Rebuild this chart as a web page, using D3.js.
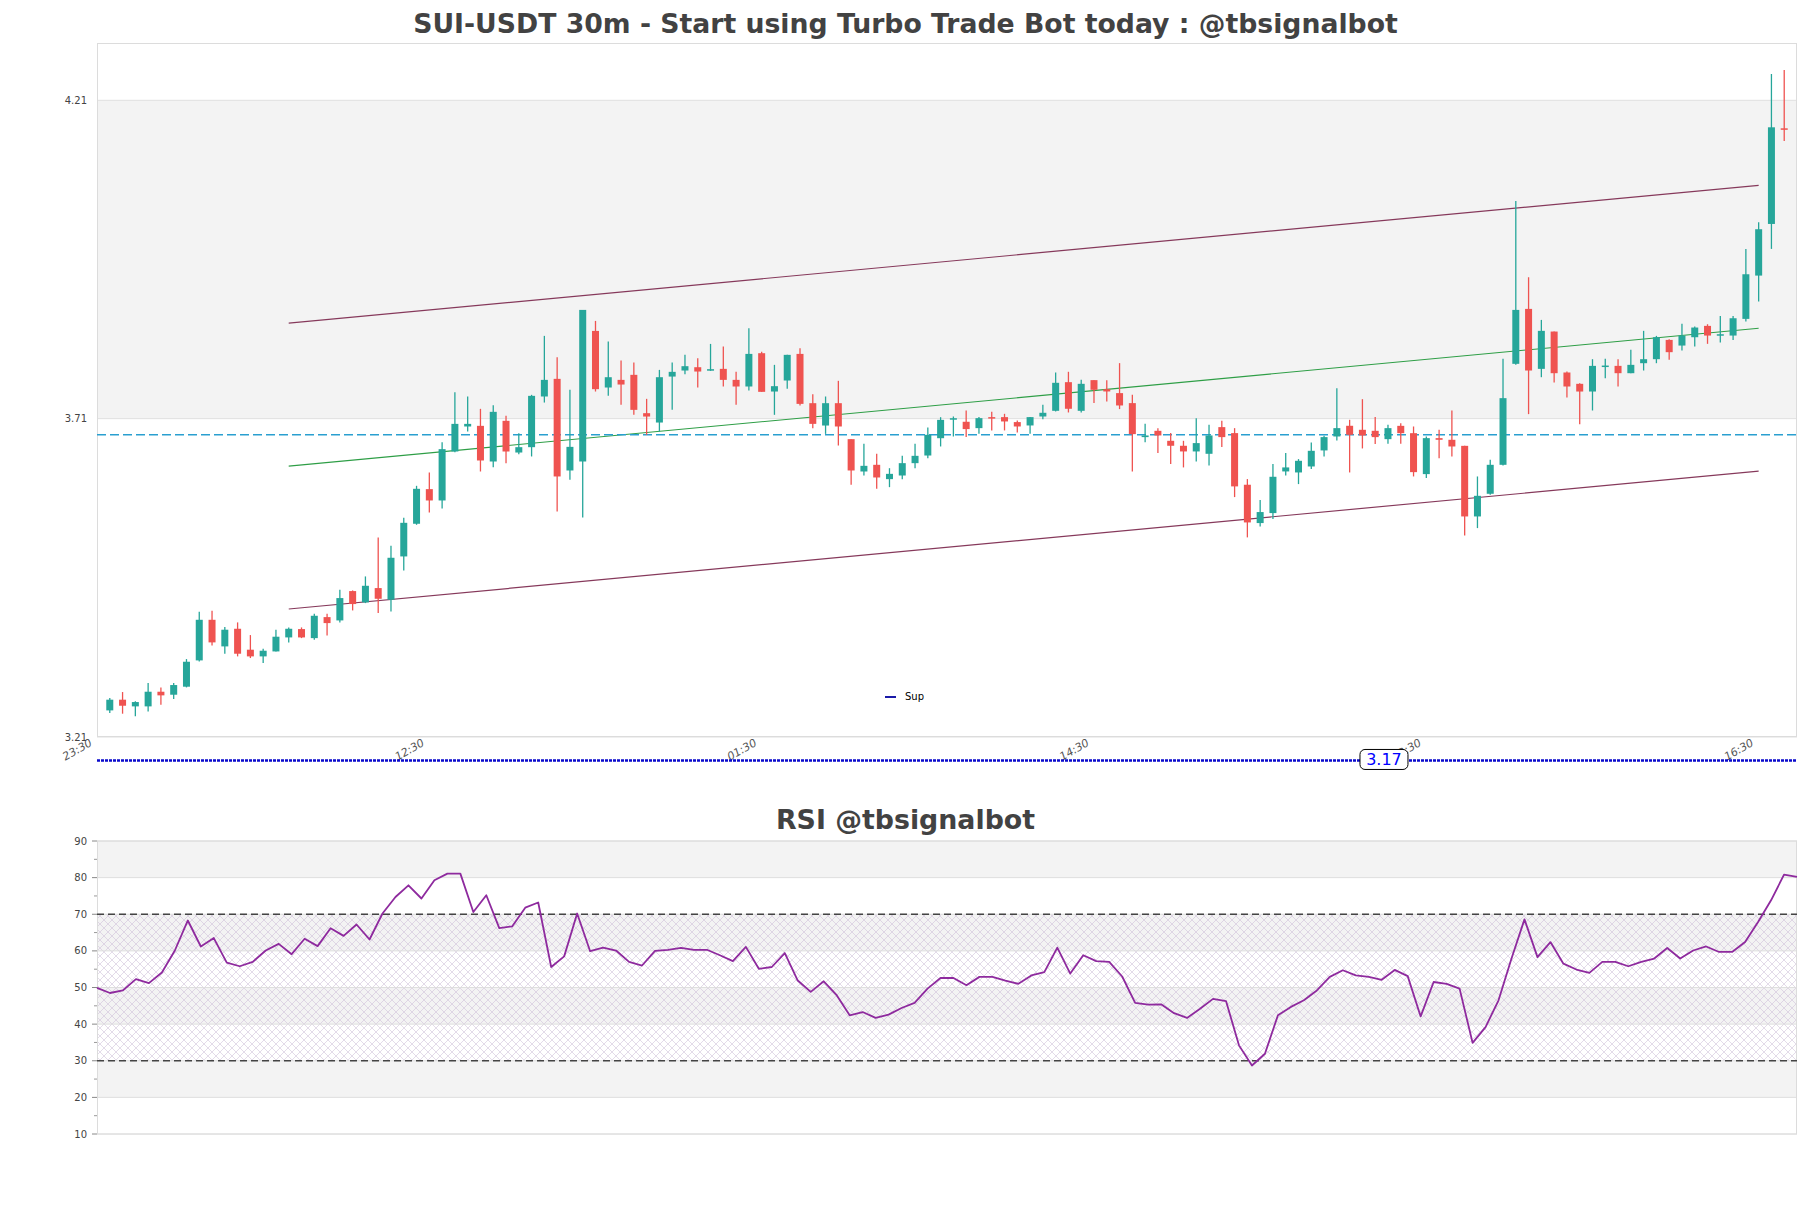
<!DOCTYPE html>
<html><head><meta charset="utf-8">
<script src="https://cdn.jsdelivr.net/npm/d3@7"></script>
<style>html,body{margin:0;padding:0;background:#fff}svg{display:block}</style>
</head><body><svg id="c" width="1811" height="1208"></svg>
<script>
// ---------- DATA ----------
const opens = [3.2518,3.2686,3.2581,3.2581,3.2811,3.2764,3.2890,3.3303,3.3941,3.3523,
3.3800,3.3471,3.3366,3.3444,3.3664,3.3795,3.3653,3.3983,3.3931,3.4392,
3.4214,3.4439,3.4256,3.4936,3.5449,3.5993,3.5815,3.6584,3.6977,3.6987,
3.6427,3.7066,3.6568,3.6652,3.7448,3.7725,3.6286,3.6427,3.8478,3.7589,
3.7709,3.7788,3.7186,3.7039,3.7761,3.7856,3.7908,3.7861,3.7882,3.7709,
3.7605,3.8128,3.7526,3.7699,3.8117,3.7343,3.6992,3.7343,3.6778,3.6270,
3.6375,3.6150,3.6207,3.6401,3.6521,3.6793,3.7092,3.7051,3.6951,3.7124,
3.7124,3.7046,3.6993,3.7134,3.7223,3.7673,3.7223,3.7705,3.7563,3.7501,
3.7344,3.6810,3.6909,3.6752,3.6674,3.6585,3.6548,3.6967,3.6873,3.6062,
3.5460,3.5617,3.6271,3.6255,3.6349,3.6601,3.6820,3.6988,3.6925,3.6909,
3.6778,3.6987,3.6872,3.6229,3.6794,3.6768,3.6673,3.5564,3.5920,3.6375,
3.7961,3.8824,3.7882,3.8468,3.7825,3.7647,3.7526,3.7919,3.7929,3.7814,
3.7971,3.8034,3.8337,3.8248,3.8379,3.8557,3.8405,3.8405,3.8667,3.9347,
4.0158,4.1660];
const highs = [3.2712,3.2806,3.2660,3.2947,3.2879,3.2947,3.3324,3.4067,3.4083,3.3826,
3.3900,3.3701,3.3486,3.3785,3.3821,3.3821,3.4036,3.4036,3.4412,3.4402,
3.4622,3.5234,3.5103,3.5543,3.6045,3.6254,3.6731,3.7515,3.7447,3.7254,
3.7311,3.7144,3.6872,3.7474,3.8400,3.8065,3.7552,3.8808,3.8635,3.8311,
3.8013,3.7981,3.7411,3.7866,3.7981,3.8102,3.8049,3.8274,3.8232,3.7835,
3.8520,3.8149,3.7945,3.8102,3.8206,3.7484,3.7448,3.7694,3.6778,3.6704,
3.6547,3.6322,3.6516,3.6704,3.6961,3.7123,3.7134,3.7229,3.7124,3.7208,
3.7176,3.7072,3.7124,3.7318,3.7825,3.7836,3.7710,3.7705,3.7705,3.7972,
3.7475,3.7019,3.6951,3.6873,3.6752,3.7108,3.7004,3.7066,3.6951,3.6151,
3.5821,3.6386,3.6559,3.6465,3.6726,3.6831,3.7579,3.7082,3.7406,3.7124,
3.7003,3.7029,3.6977,3.6820,3.6925,3.7228,3.6673,3.6192,3.6453,3.8039,
4.0520,3.9321,3.8651,3.8468,3.7840,3.7657,3.8034,3.8039,3.8034,3.8181,
3.8479,3.8400,3.8348,3.8589,3.8547,3.8583,3.8714,3.8714,3.9766,4.0185,
4.2513,4.2576];
const lows = [3.2476,3.2466,3.2424,3.2502,3.2607,3.2696,3.2879,3.3287,3.3539,3.3408,
3.3366,3.3340,3.3261,3.3444,3.3586,3.3653,3.3627,3.3695,3.3900,3.4088,
3.4203,3.4046,3.4072,3.4716,3.5433,3.5627,3.5689,3.6574,3.6898,3.6270,
3.6338,3.6401,3.6542,3.6506,3.7353,3.5642,3.6139,3.5548,3.7526,3.7458,
3.7317,3.7160,3.6846,3.6898,3.7238,3.7798,3.7589,3.7850,3.7605,3.7317,
3.7542,3.7521,3.7160,3.7568,3.7306,3.6950,3.6861,3.6678,3.6061,3.6207,
3.5998,3.6024,3.6150,3.6322,3.6479,3.6663,3.6820,3.6810,3.6862,3.6915,
3.6915,3.6883,3.6862,3.7092,3.7213,3.7197,3.7197,3.7344,3.7370,3.7250,
3.6271,3.6731,3.6559,3.6386,3.6334,3.6428,3.6365,3.6653,3.5868,3.5235,
3.5408,3.5523,3.6208,3.6072,3.6308,3.6506,3.6758,3.6255,3.6632,3.6700,
3.6705,3.6705,3.6192,3.6166,3.6480,3.6506,3.5266,3.5381,3.5904,3.6365,
3.7945,3.7171,3.7751,3.7668,3.7432,3.7013,3.7228,3.7736,3.7605,3.7814,
3.7856,3.7971,3.8024,3.8170,3.8233,3.8275,3.8296,3.8337,3.8625,3.8939,
3.9766,4.1461];
const closes = [3.2686,3.2591,3.2649,3.2811,3.2754,3.2916,3.3282,3.3941,3.3586,3.3785,
3.3408,3.3366,3.3455,3.3675,3.3800,3.3664,3.4004,3.3889,3.4282,3.4188,
3.4475,3.4271,3.4915,3.5464,3.5998,3.5815,3.6621,3.7018,3.7018,3.6443,
3.7207,3.6584,3.6652,3.7458,3.7709,3.6192,3.6657,3.8808,3.7563,3.7751,
3.7636,3.7238,3.7133,3.7751,3.7835,3.7924,3.7840,3.7877,3.7709,3.7605,
3.8117,3.7521,3.7610,3.8102,3.7332,3.7018,3.7343,3.6977,3.6286,3.6359,
3.6176,3.6233,3.6401,3.6516,3.6846,3.7081,3.7107,3.6936,3.7108,3.7103,
3.7056,3.6977,3.7124,3.7192,3.7663,3.7255,3.7647,3.7553,3.7527,3.7307,
3.6857,3.6836,3.6836,3.6674,3.6585,3.6716,3.6836,3.6810,3.6036,3.5470,
3.5633,3.6187,3.6334,3.6438,3.6595,3.6810,3.6951,3.6847,3.6836,3.6810,
3.6951,3.6872,3.6260,3.6794,3.6768,3.6663,3.5564,3.5888,3.6375,3.7422,
3.8808,3.7856,3.8479,3.7814,3.7605,3.7526,3.7929,3.7934,3.7814,3.7945,
3.8034,3.8379,3.8144,3.8405,3.8531,3.8405,3.8426,3.8677,3.9368,4.0075,
4.1676,4.1639];
const rsiValues = [49.9,48.5,49.2,52.3,51.2,54.1,60.1,68.3,61.2,63.5,
56.8,55.8,57.0,60.1,61.9,59.1,63.3,61.3,66.2,64.1,
67.2,63.1,70.2,74.7,77.9,74.3,79.3,81.1,81.1,70.6,
75.2,66.2,66.7,71.8,73.2,55.6,58.5,70.2,59.9,60.9,
60.1,57.0,56.0,60.0,60.3,60.8,60.3,60.3,58.8,57.2,
61.1,55.1,55.6,59.4,51.9,48.8,51.7,47.9,42.4,43.3,
41.7,42.6,44.4,45.8,49.7,52.6,52.6,50.6,52.9,52.9,
51.9,51.0,53.3,54.2,60.9,53.8,58.8,57.2,57.0,53.0,
45.8,45.3,45.4,43.0,41.7,44.2,46.9,46.3,34.2,28.7,
31.9,42.4,44.7,46.5,49.2,52.9,54.7,53.3,52.9,52.1,
54.8,53.1,42.1,51.5,51.0,49.7,34.9,39.2,46.5,57.9,
68.6,58.3,62.4,56.5,54.9,54.0,57.0,57.0,55.8,57.0,
57.9,60.8,57.9,60.1,61.2,59.7,59.7,62.4,67.9,73.8,
80.8,80.2];
const timeLabels = ["23:30","12:30","01:30","14:30","03:30","16:30"];
const timeTickIndex = [0,26,52,78,104,130];
const priceTicks = [3.21,3.71,4.21];
const priceBands = [[3.71,4.21]];
const channelIndex = [14,129];
const channelMid = [3.6355,3.8520];
const channelHalf = 0.2245;
const dashedLevel = 3.6846;
const supLevel = 3.17;
const supLabelIndex = 100;
const rsiTicks = [10,20,30,40,50,60,70,80,90];
const rsiMinorTicks = [15,25,35,45,55,65,75,85];
const rsiBands = [[20,30],[40,50],[60,70],[80,90]];
const rsiLevels = [30,70];

// ---------- LAYOUT ----------
const svg = d3.select("#c");
const L = 97, R = 1797;
const mainTop = 43, mainBot = 737;
const rsiTop = 841, rsiBot = 1134;

const x = d3.scaleLinear().domain([-1, 132]).range([L, R]);
const y = d3.scaleLinear().domain([3.21, 4.30]).range([mainBot, mainTop]);
const xr = d3.scaleLinear().domain([0, rsiValues.length - 1]).range([L, R]);
const yr = d3.scaleLinear().domain([10, 90]).range([rsiBot, rsiTop]);

const FONT = "DejaVu Sans, Verdana, sans-serif";

// pattern for RSI hatch
const defs = svg.append("defs");
const pat = defs.append("pattern").attr("id","hatch").attr("patternUnits","userSpaceOnUse")
  .attr("width",8).attr("height",8);
pat.append("path").attr("d","M0,0 L8,8 M8,0 L0,8 M-1,7 L1,9 M7,-1 L9,1")
  .attr("stroke","#cbbcd6").attr("stroke-width",0.6).attr("fill","none");

// ---------- TITLES ----------
svg.append("text").attr("x",905.5).attr("y",32.5).attr("text-anchor","middle")
  .attr("font-family",FONT).attr("font-weight","bold").attr("font-size",26.7).attr("fill","#424242")
  .text("SUI-USDT 30m - Start using Turbo Trade Bot today : @tbsignalbot");
svg.append("text").attr("x",905.5).attr("y",829).attr("text-anchor","middle")
  .attr("font-family",FONT).attr("font-weight","bold").attr("font-size",26.8).attr("fill","#424242")
  .text("RSI @tbsignalbot");

// ---------- MAIN PANEL ----------
const main = svg.append("g");
main.selectAll("rect.band").data(priceBands).join("rect").attr("class","band")
  .attr("x",L).attr("width",R-L).attr("y",d=>y(d[1])).attr("height",d=>y(d[0])-y(d[1]))
  .attr("fill","#f3f3f3");
main.selectAll("line.grid").data(priceTicks).join("line").attr("class","grid")
  .attr("x1",L).attr("x2",R).attr("y1",d=>y(d)).attr("y2",d=>y(d))
  .attr("stroke","#e0e0e0").attr("stroke-width",1);
main.append("rect").attr("x",L+0.5).attr("y",mainTop+0.5).attr("width",R-L-1).attr("height",mainBot-mainTop-1)
  .attr("fill","none").attr("stroke","#dcdcdc");

// y tick labels
main.selectAll("text.yt").data(priceTicks).join("text").attr("class","yt")
  .attr("x",87).attr("y",d=>y(d)).attr("dy","0.35em").attr("text-anchor","end")
  .attr("font-family",FONT).attr("font-size",10).attr("fill","#444").text(d=>d.toFixed(2));

// x tick labels (rotated)
main.selectAll("text.xt").data(timeTickIndex).join("text").attr("class","xt")
  .attr("transform",d=>`translate(${x(d)-17},745) rotate(-30)`).attr("text-anchor","end")
  .attr("font-family",FONT).attr("font-size",11).attr("font-style","italic").attr("fill","#555")
  .text((d,i)=>timeLabels[i]);

// channel lines
const chan = [
  {off: channelHalf, color:"#86395b", w:1.2},
  {off: 0, color:"#2e9e46", w:1.1},
  {off: -channelHalf, color:"#86395b", w:1.2}
];
main.selectAll("line.chan").data(chan).join("line").attr("class","chan")
  .attr("x1",x(channelIndex[0])).attr("x2",x(channelIndex[1]))
  .attr("y1",d=>y(channelMid[0]+d.off)).attr("y2",d=>y(channelMid[1]+d.off))
  .attr("stroke",d=>d.color).attr("stroke-width",d=>d.w);

// dashed level
main.append("line").attr("x1",L).attr("x2",R).attr("y1",y(dashedLevel)).attr("y2",y(dashedLevel))
  .attr("stroke","#2a9fd0").attr("stroke-width",1.5).attr("stroke-dasharray","9,4");

// candles
const candles = d3.range(opens.length).map(i=>({i,o:opens[i],h:highs[i],l:lows[i],c:closes[i]}));
const up = "#26a69a", dn = "#ef5350";
const cg = main.append("g");
cg.selectAll("line.wick").data(candles).join("line").attr("class","wick")
  .attr("x1",d=>x(d.i)).attr("x2",d=>x(d.i)).attr("y1",d=>y(d.h)).attr("y2",d=>y(d.l))
  .attr("stroke",d=>d.c>=d.o?up:dn).attr("stroke-width",1.3);
const bw = 7;
cg.selectAll("rect.body").data(candles).join("rect").attr("class","body")
  .attr("x",d=>x(d.i)-bw/2).attr("width",bw)
  .attr("y",d=>y(Math.max(d.o,d.c)))
  .attr("height",d=>Math.max(1.5,Math.abs(y(d.o)-y(d.c))))
  .attr("fill",d=>d.c>=d.o?up:dn);

// Sup line (below plot)
const supG = main.append("g").attr("transform","translate(0,-2)");
supG.append("line").attr("x1",L).attr("x2",R).attr("y1",y(supLevel)).attr("y2",y(supLevel))
  .attr("stroke","#0a0acc").attr("stroke-width",2.5).attr("stroke-dasharray","3,1");
const lbl = supG.append("g").attr("transform",`translate(${x(supLabelIndex)-4},${y(supLevel)-1})`);
lbl.append("rect").attr("x",-24).attr("y",-10).attr("width",48).attr("height",20).attr("rx",5)
  .attr("fill","#fff").attr("stroke","#000").attr("stroke-width",1);
lbl.append("text").attr("x",0).attr("y",0).attr("dy","0.36em").attr("text-anchor","middle")
  .attr("font-family",FONT).attr("font-size",16).attr("fill","#0000ff").text(supLevel.toFixed(2));

// legend
const lg = main.append("g").attr("transform","translate(885,697)");
lg.append("line").attr("x1",0).attr("x2",11).attr("y1",0).attr("y2",0).attr("stroke","#1a1aa8").attr("stroke-width",2);
lg.append("text").attr("x",20).attr("y",0).attr("dy","0.32em").attr("font-family",FONT)
  .attr("font-size",10).attr("fill","#000").text("Sup");

// ---------- RSI PANEL ----------
const rp = svg.append("g");
rp.selectAll("rect.band").data(rsiBands).join("rect").attr("class","band")
  .attr("x",L).attr("width",R-L).attr("y",d=>yr(d[1])).attr("height",d=>yr(d[0])-yr(d[1]))
  .attr("fill","#f3f3f3");
rp.append("rect").attr("x",L).attr("width",R-L).attr("y",yr(rsiLevels[1])).attr("height",yr(rsiLevels[0])-yr(rsiLevels[1]))
  .attr("fill","url(#hatch)").attr("opacity",0.9);
rp.selectAll("line.grid").data(rsiTicks).join("line").attr("class","grid")
  .attr("x1",L).attr("x2",R).attr("y1",d=>yr(d)).attr("y2",d=>yr(d))
  .attr("stroke","#dedede").attr("stroke-width",1);
rp.append("rect").attr("x",L+0.5).attr("y",rsiTop).attr("width",R-L-1).attr("height",rsiBot-rsiTop)
  .attr("fill","none").attr("stroke","#dcdcdc");
rp.selectAll("line.lvl").data(rsiLevels).join("line").attr("class","lvl")
  .attr("x1",L).attr("x2",R).attr("y1",d=>yr(d)).attr("y2",d=>yr(d))
  .attr("stroke","#444").attr("stroke-width",1.4).attr("stroke-dasharray","7,4");

// axis ticks
rp.selectAll("line.tk").data(rsiTicks).join("line").attr("class","tk")
  .attr("x1",L-5).attr("x2",L).attr("y1",d=>yr(d)).attr("y2",d=>yr(d)).attr("stroke","#888");
rp.selectAll("line.mtk").data(rsiMinorTicks).join("line").attr("class","mtk")
  .attr("x1",L-3).attr("x2",L).attr("y1",d=>yr(d)).attr("y2",d=>yr(d)).attr("stroke","#999");
rp.selectAll("text.yt").data(rsiTicks).join("text").attr("class","yt")
  .attr("x",87).attr("y",d=>yr(d)).attr("dy","0.35em").attr("text-anchor","end")
  .attr("font-family",FONT).attr("font-size",10).attr("fill","#444").text(d=>d);

rp.append("path").datum(rsiValues)
  .attr("d",d3.line().x((d,i)=>xr(i)).y(d=>yr(d)))
  .attr("fill","none").attr("stroke","#8e2a9e").attr("stroke-width",1.8).attr("stroke-linejoin","round");
</script>
</body></html>
